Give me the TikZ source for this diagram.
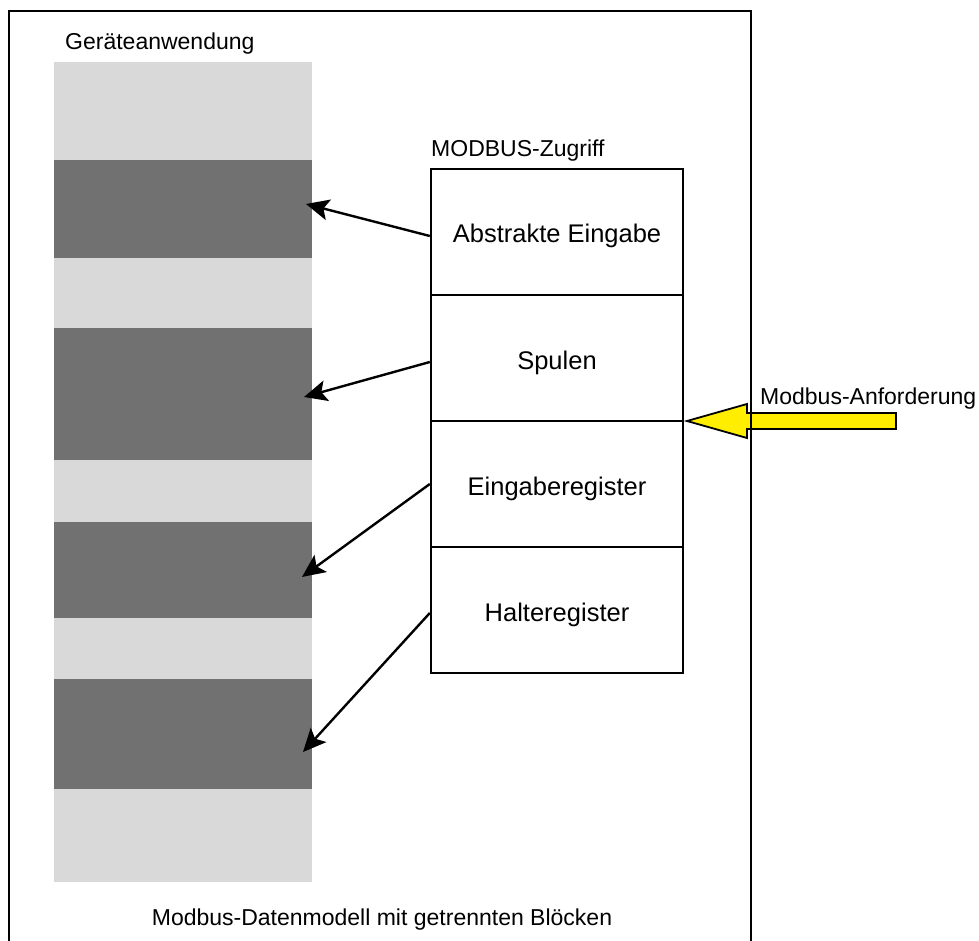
\documentclass[tikz,border=0pt]{standalone}
\usepackage{fontspec}
\setmainfont{Liberation Sans}
\usetikzlibrary{arrows.meta,calc}
\definecolor{lightcol}{HTML}{D9D9D9}
\definecolor{darkcol}{HTML}{717171}
\definecolor{arrowyellow}{HTML}{FFEE00}
\begin{document}
\begin{tikzpicture}[x=1pt,y=-1pt,
  lbl/.style={inner sep=0pt,font=\fontsize{23}{27}\selectfont},
  sec/.style={draw,line width=2.4pt,minimum width=252pt,minimum height=126pt,inner sep=0pt,
    text height=22pt,text depth=0pt,font=\fontsize{25.5}{30}\selectfont},
  blk/.style={fill=darkcol,inner sep=0pt,minimum width=258pt},
  link/.style={line width=2.4pt,-{Stealth[length=23pt,width=21pt,inset=5pt]}}]
\useasboundingbox (0,0) rectangle (979,941);
% device application column
\node[fill=lightcol,inner sep=0pt,minimum width=258pt,minimum height=820pt] (col) at (183,472) {};
\node[blk,minimum height=98pt] (b1) at (183,209) {};
\node[blk,minimum height=132pt] (b2) at (183,394) {};
\node[blk,minimum height=96pt] (b3) at (183,570) {};
\node[blk,minimum height=110pt] (b4) at (183,734) {};
\node[lbl,anchor=base west] (ga) at (65,50) {Geräteanwendung};
% MODBUS access table
\node[lbl,anchor=base west] (mz) at (431,157) {MODBUS-Zugriff};
\node[sec] (s1) at (557,232) {Abstrakte Eingabe};
\node[sec] (s2) at (557,358) {Spulen};
\node[sec] (s3) at (557,484) {Eingaberegister};
\node[sec] (s4) at (557,610) {Halteregister};
% arrows
\coordinate (t1) at (306,204);
\coordinate (t2) at (304,397);
\coordinate (t3) at (302,577);
\coordinate (t4) at (303,752);
\draw[link] ($(s1.west)+(0,4)$) -- (t1);
\draw[link] ($(s2.west)+(0,4)$) -- (t2);
\draw[link] (s3.west) -- (t3);
\draw[link] ($(s4.west)+(0,3)$) -- (t4);
% request arrow
\draw[fill=arrowyellow,line width=1.8pt,line join=miter]
  (687,421) -- (747,404) -- (747,413) -- (896,413) -- (896,429) -- (747,429) -- (747,438) -- cycle;
\node[lbl,anchor=base west] (ma) at (760,404) {Modbus-Anforderung};
% outer frame
\draw[line width=2.8pt] (9,941) -- (9,11) -- (751,11) -- (751,941);
\node[lbl,anchor=base] (md) at (382,925) {Modbus-Datenmodell mit getrennten Blöcken};
\end{tikzpicture}
\end{document}
